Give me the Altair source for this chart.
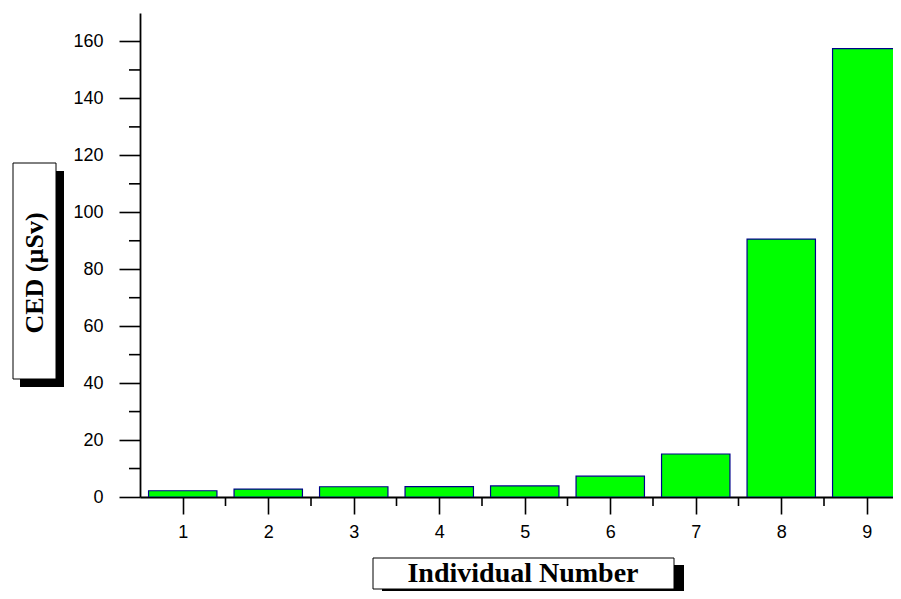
import altair as alt
import pandas as pd

# ---- data ----
individuals = [1, 2, 3, 4, 5, 6, 7, 8, 9]
ced_values = [2.2, 2.8, 3.6, 3.65, 3.9, 7.3, 15.1, 90.6, 157.5]
x_major = [1, 2, 3, 4, 5, 6, 7, 8, 9]
x_minor = [1.5, 2.5, 3.5, 4.5, 5.5, 6.5, 7.5, 8.5]
y_major = [0, 20, 40, 60, 80, 100, 120, 140, 160]
y_minor = [10, 30, 50, 70, 90, 110, 130, 150]
x_title = "Individual Number"
y_title = "CED (µSv)"

W, H = 753, 484

df = pd.DataFrame({"n": individuals, "ced": ced_values})
xs = alt.Scale(domain=[0.5, 9.307], nice=False, zero=False)
ys = alt.Scale(domain=[0, 170], nice=False)

xaxis = alt.Axis(values=x_major, tickSize=17, tickWidth=1.6, tickColor="black",
                 domainColor="black", domainWidth=1.8, labelPadding=9,
                 labelFontSize=18, labelFont="Liberation Sans", labelColor="black",
                 grid=False, labelFlush=False, title=None)
yaxis = alt.Axis(values=y_major, tickSize=21, tickWidth=1.6, tickColor="black",
                 domainColor="black", domainWidth=1.8, labelPadding=16,
                 labelFontSize=18, labelFont="Liberation Sans", labelColor="black",
                 grid=False, labelFlush=False, title=None)

bars = alt.Chart(df).transform_calculate(
    x0="datum.n - 0.4", x1="datum.n + 0.4"
).mark_bar(fill="#00FF00", stroke="#00008B", strokeWidth=1.2, clip=True).encode(
    x=alt.X("x0:Q", scale=xs, axis=xaxis),
    x2="x1:Q",
    y=alt.Y("ced:Q", scale=ys, axis=yaxis),
    y2=alt.datum(0),
)

xminor = alt.Chart(pd.DataFrame({"m": x_minor})).mark_rule(color="black", strokeWidth=1.6).encode(
    x=alt.X("m:Q", scale=xs, axis=xaxis), y=alt.value(H), y2=alt.value(H + 9)
)
yminor = alt.Chart(pd.DataFrame({"m": y_minor})).mark_rule(color="black", strokeWidth=1.6).encode(
    y=alt.Y("m:Q", scale=ys, axis=yaxis), x=alt.value(-11), x2=alt.value(0)
)

one = pd.DataFrame({"k": [0]})
# y title box with shadow
y_shadow = alt.Chart(one).mark_rect(fill="black").encode(
    x=alt.value(-120), x2=alt.value(-76), y=alt.value(158), y2=alt.value(374))
y_box = alt.Chart(one).mark_rect(fill="white", stroke="black", strokeWidth=1).encode(
    x=alt.value(-127), x2=alt.value(-84), y=alt.value(150), y2=alt.value(366))
y_text = alt.Chart(one).mark_text(
    text=y_title, angle=270, font="Liberation Serif", fontWeight="bold", fontSize=26,
    align="center", baseline="middle", color="black").encode(
    x=alt.value(-105), y=alt.value(260))

# x title box with shadow
x_shadow = alt.Chart(one).mark_rect(fill="black").encode(
    x=alt.value(242), x2=alt.value(544), y=alt.value(552), y2=alt.value(600))
x_box = alt.Chart(one).mark_rect(fill="white", stroke="black", strokeWidth=1).encode(
    x=alt.value(233), x2=alt.value(534), y=alt.value(545), y2=alt.value(576))
x_text = alt.Chart(one).mark_text(
    text=x_title, font="Liberation Serif", fontWeight="bold", fontSize=28,
    align="center", baseline="middle", color="black").encode(
    x=alt.value(383), y=alt.value(561))

chart = alt.layer(bars, xminor, yminor, y_shadow, y_box, y_text, x_shadow, x_box, x_text).properties(
    width=W, height=H,
    autosize=alt.AutoSizeParams(type="none"),
    padding={"left": 132, "top": 5, "right": 0, "bottom": 94},
    background="white",
).configure_view(stroke=None)

chart.save("out.html", embed_options={"renderer": "svg", "actions": False})
